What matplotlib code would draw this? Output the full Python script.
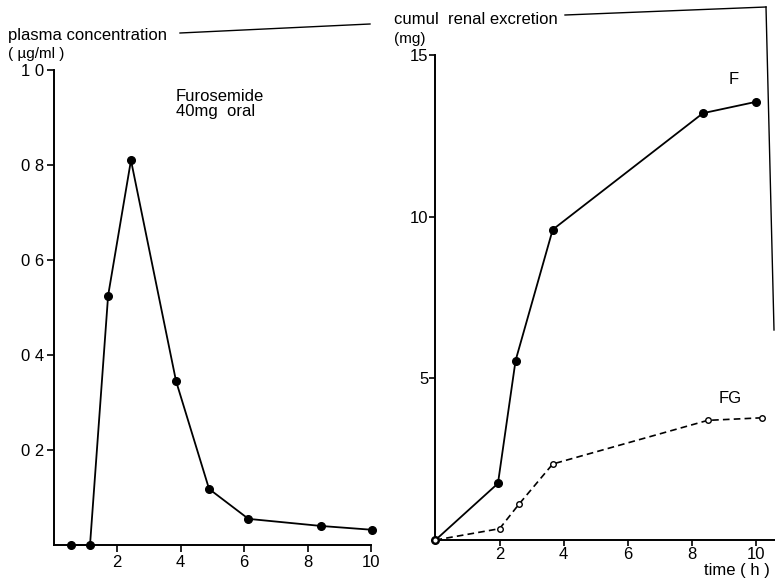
import matplotlib
matplotlib.use("Agg")
import matplotlib.pyplot as plt
from matplotlib.lines import Line2D

# Data
plasma_t = [0.55, 1.15, 1.72, 2.44, 3.86, 4.9, 6.14, 8.44, 10.04]
plasma_c = [0.0, 0.0, 0.525, 0.81, 0.345, 0.118, 0.055, 0.04, 0.032]

f_t = [0.0, 1.95, 2.5, 3.66, 8.35, 10.0]
f_mg = [0.0, 1.75, 5.55, 9.6, 13.2, 13.55]

fg_t = [0.0, 2.0, 2.6, 3.66, 8.5, 10.2]
fg_mg = [0.0, 0.35, 1.1, 2.35, 3.7, 3.78]

x_ticks = [2, 4, 6, 8, 10]
left_yticks = [0.2, 0.4, 0.6, 0.8, 1.0]
left_ylabels = ["0 2", "0 4", "0 6", "0 8", "1 0"]
right_yticks = [5, 10, 15]
right_ylabels = ["5", "10", "15"]

W, H = 775, 578
fig = plt.figure(figsize=(W / 100, H / 100), dpi=100)
plt.rcParams['font.family'] = ['Liberation Sans', 'DejaVu Sans']

def fx(px):
    return px / W

def fy(py):
    return 1 - py / H

# Left panel
ax1 = fig.add_axes([fx(53.5), fy(545), fx(371) - fx(53.5), fy(70) - fy(545)])
ax1.plot(plasma_t, plasma_c, color='black', lw=1.3, marker='o', ms=5.5,
         mfc='black', mec='black', clip_on=False, zorder=3)
ax1.set_xlim(0, 10)
ax1.set_ylim(0, 1.0)
ax1.set_xticks(x_ticks)
ax1.set_xticklabels([str(v) for v in x_ticks])
ax1.set_yticks(left_yticks)
ax1.set_yticklabels(left_ylabels)
for s in ['top', 'right']:
    ax1.spines[s].set_visible(False)
for s in ['left', 'bottom']:
    ax1.spines[s].set_linewidth(1.4)
ax1.tick_params(direction='out', length=5, width=1.2, labelsize=12, pad=2)
ax1.text(0.385, 0.96, "Furosemide\n40mg  oral", transform=ax1.transAxes,
         fontsize=12, va='top', ha='left', linespacing=1.0)

# Right panel
ax2 = fig.add_axes([fx(435.5), fy(540), fx(775) - fx(435.5), fy(55) - fy(540)])
ax2.plot(f_t, f_mg, color='black', lw=1.3, marker='o', ms=5.5,
         mfc='black', mec='black', clip_on=False, zorder=3)
ax2.plot(fg_t, fg_mg, color='black', lw=1.2, ls=(0, (4, 2.5)), marker='o', ms=4,
         mfc='white', mec='black', mew=1.0, clip_on=False, zorder=3)
ax2.set_xlim(0, 10.6)
ax2.set_ylim(0, 15)
ax2.set_xticks(x_ticks)
ax2.set_xticklabels([str(v) for v in x_ticks])
ax2.set_yticks(right_yticks)
ax2.set_yticklabels(right_ylabels)
for s in ['top', 'right']:
    ax2.spines[s].set_visible(False)
for s in ['left', 'bottom']:
    ax2.spines[s].set_linewidth(1.4)
ax2.tick_params(direction='out', length=4, width=1.2, labelsize=12, pad=1)
ax2.text(9.3, 14.0, "F", fontsize=12, ha='center', va='bottom')
ax2.text(9.2, 4.15, "FG", fontsize=12, ha='center', va='bottom')

# Axis titles
fig.text(fx(8), fy(40), "plasma concentration", fontsize=12, ha='left', va='baseline')
fig.text(fx(8), fy(58), "( \u00b5g/ml )", fontsize=11, ha='left', va='baseline')
fig.text(fx(394), fy(24), "cumul  renal excretion", fontsize=12, ha='left', va='baseline')
fig.text(fx(394), fy(43), "(mg)", fontsize=11, ha='left', va='baseline')
fig.text(fx(770), fy(578), "time ( h )", fontsize=12, ha='right', va='bottom')

# Rule lines from the scanned page
fig.add_artist(Line2D([fx(180), fx(370)], [fy(33), fy(24)], color='black', lw=1.0))
fig.add_artist(Line2D([fx(565), fx(766)], [fy(15), fy(7)], color='black', lw=1.0))
fig.add_artist(Line2D([fx(766), fx(774)], [fy(7), fy(330)], color='black', lw=1.0))

fig.savefig("out.png", dpi=100, facecolor='white')
